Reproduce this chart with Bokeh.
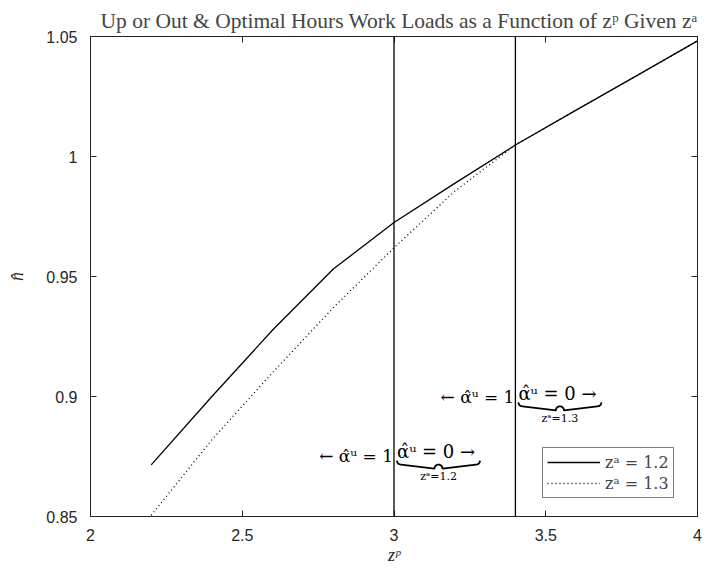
import numpy as np
from bokeh.plotting import figure
from bokeh.models import LinearAxis, Span, Legend, LegendItem, FixedTicker
from bokeh.core.properties import value
from bokeh.embed import file_html
from bokeh.resources import INLINE

# ---- data ----
zp = [2.2, 2.4, 2.6, 2.8, 3.0, 3.2, 3.4, 3.6, 3.8, 4.0]
n_za12 = [0.8715, 0.900, 0.9277, 0.9531, 0.9725, 0.9888, 1.0048, 1.0193, 1.0337, 1.0482]
n_za13 = [0.8505, 0.882, 0.910, 0.937, 0.962, 0.9855, 1.0048, 1.0193, 1.0337, 1.0482]
thresholds = [3.0, 3.4]           # z^p where alpha^u switches, for z^a = 1.2, 1.3
threshold_labels = ["zᵃ=1.2", "zᵃ=1.3"]
ann_levels = [0.8762, 0.9005]     # n-hat level of each annotation
x_ticks = [2, 2.5, 3, 3.5, 4]
y_ticks = [0.85, 0.9, 0.95, 1.0, 1.05]
x_lim = (2, 4)
y_lim = (0.85, 1.05)

FW, FH = 607, 480
SERIF = "Liberation Serif"
MATH = "DejaVu Serif"
SANS = "Liberation Sans"

p = figure(frame_width=FW, frame_height=FH, x_range=x_lim, y_range=y_lim,
           output_backend="svg", toolbar_location=None,
           min_border_left=90, min_border_right=18, min_border_top=36,
           min_border_bottom=45, background_fill_color="white",
           border_fill_color="white")
p.grid.visible = False
p.outline_line_color = "black"

p.title.text = "Up or Out & Optimal Hours Work Loads as a Function of zᵖ Given zᵃ"
p.title.text_font = SERIF
p.title.text_font_size = "21.5px"
p.title.text_font_style = "normal"
p.title.align = "left"
p.title.offset = 10
p.title.standoff = 8

def style_axis(ax, labels=True):
    ax.major_tick_in = 6
    ax.major_tick_out = 0
    ax.minor_tick_in = 0
    ax.minor_tick_out = 0
    ax.axis_line_color = "#262626"
    ax.major_tick_line_color = "#262626"
    if labels:
        ax.major_label_text_font = SANS
        ax.major_label_text_font_size = "16px"
        ax.major_label_text_color = "#262626"
    else:
        ax.major_label_text_font_size = "0px"
        ax.major_label_text_color = None

xax = p.xaxis[0]
yax = p.yaxis[0]
xax.ticker = FixedTicker(ticks=x_ticks)
yax.ticker = FixedTicker(ticks=y_ticks)
xax.major_label_overrides = {2: "2", 2.5: "2.5", 3: "3", 3.5: "3.5", 4: "4"}
yax.major_label_overrides = {0.85: "0.85", 0.9: "0.9", 0.95: "0.95", 1.0: "1", 1.05: "1.05"}
style_axis(xax)
style_axis(yax)
xax.major_label_standoff = 12
yax.major_label_standoff = 13
xax.axis_label = "zᵖ"
yax.axis_label = "n̂"
for ax in (xax, yax):
    ax.axis_label_text_font = SERIF
    ax.axis_label_text_font_style = "italic"
    ax.axis_label_text_font_size = "18px"
    ax.axis_label_text_color = "#262626"
xax.axis_label_standoff = 1
yax.axis_label_standoff = 16

top = LinearAxis(ticker=FixedTicker(ticks=x_ticks))
right = LinearAxis(ticker=FixedTicker(ticks=y_ticks))
style_axis(top, labels=False)
style_axis(right, labels=False)
p.add_layout(top, "above")
p.add_layout(right, "right")

# ---- curves ----
r12 = p.line(zp, n_za12, line_color="black", line_width=1.3)
r13 = p.line(zp, n_za13, line_color="black", line_width=1.3, line_dash="1 3")

# ---- threshold lines ----
for t in thresholds:
    p.add_layout(Span(location=t, dimension="height", line_color="black", line_width=1.3))

# ---- annotations ----
px_x = (x_lim[1] - x_lim[0]) / FW
px_y = (y_lim[1] - y_lim[0]) / FH

def brace(x0, x1, ytop, h):
    # curly underbrace shape from x0 to x1, opening upward at ytop
    xm = 0.5 * (x0 + x1)
    r = h / 2.0
    rx = r * px_x / px_y
    th = np.linspace(0, np.pi / 2, 8)
    xs, ys = [], []
    xs += list(x0 + rx * (1 - np.cos(th)))
    ys += list(ytop - r * np.sin(th))
    xs += list(xm - rx * np.sin(th[::-1]))
    ys += list(ytop - r - r * (1 - np.cos(th[::-1])))
    xs += list(xm + rx * np.sin(th))
    ys += list(ytop - r - r * (1 - np.cos(th)))
    xs += list(x1 - rx * (1 - np.cos(th[::-1])))
    ys += list(ytop - r * np.sin(th[::-1]))
    return xs, ys

for t, lev, lab in zip(thresholds, ann_levels, threshold_labels):
    p.text(x=[t], y=[lev], text=["← α̂ᵘ = 1"], text_align="right",
           text_baseline="middle", x_offset=-1, y_offset=2,
           text_font=value(MATH), text_font_size="17px", text_color="black")
    p.text(x=[t], y=[lev], text=["α̂ᵘ = 0 →"], text_align="left",
           text_baseline="middle", x_offset=3, y_offset=-2,
           text_font=value(MATH), text_font_size="18px", text_color="black")
    x0 = t + 3 * px_x
    x1 = t + 86 * px_x
    bx, by = brace(x0, x1, lev - 7 * px_y, 8 * px_y)
    p.line(bx, by, line_color="black", line_width=1.8)
    p.text(x=[0.5 * (x0 + x1)], y=[lev], text=[lab], text_align="center",
           text_baseline="middle", y_offset=23,
           text_font=value(MATH), text_font_size="11px", text_color="black")

# ---- legend ----
legend = Legend(items=[LegendItem(label="zᵃ = 1.2", renderers=[r12]),
                       LegendItem(label="zᵃ = 1.3", renderers=[r13])],
                location=(452, 18))
legend.label_text_font = MATH
legend.label_text_font_size = "16px"
legend.glyph_width = 53
legend.glyph_height = 20
legend.label_height = 20
legend.spacing = 1
legend.padding = 4
legend.margin = 0
legend.label_standoff = 5
legend.border_line_color = "black"
legend.border_line_width = 1
legend.background_fill_alpha = 1.0
p.add_layout(legend, "center")

open("out.html", "w").write(file_html(p, INLINE))
